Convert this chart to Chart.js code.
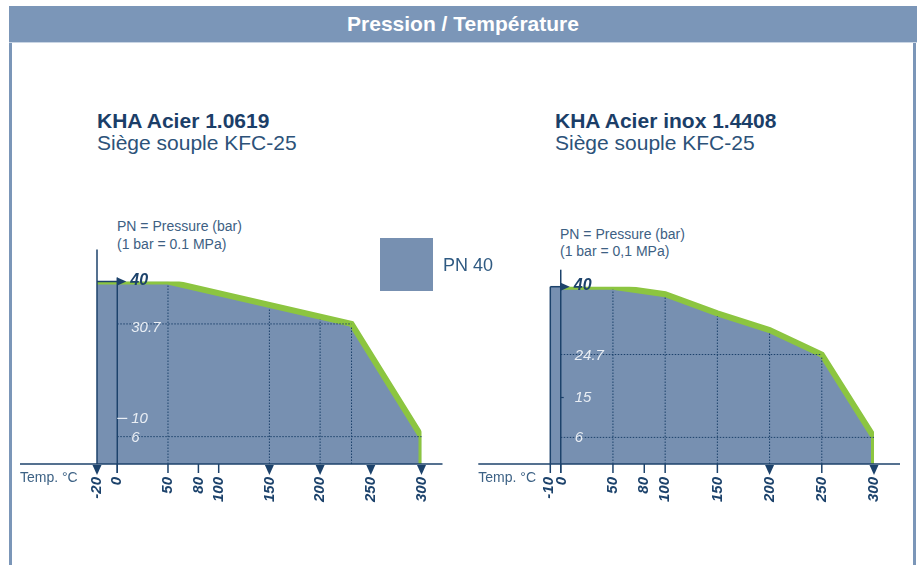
<!DOCTYPE html>
<html>
<head>
<meta charset="utf-8">
<script src="https://cdn.jsdelivr.net/npm/chart.js@4.4.1/dist/chart.umd.min.js"></script>
<style>
body{margin:0;width:924px;height:565px;background:#fff;position:relative;overflow:hidden;font-family:"Liberation Sans",Arial,sans-serif}
.header{position:absolute;left:9px;top:6px;width:908px;height:37px;background:#7b96b8;color:#fff;font-size:21px;font-weight:bold;text-align:center;line-height:36px;border-bottom:1px solid #c9d5e4;box-sizing:border-box}
.frame{position:absolute;left:9px;top:43px;width:901px;height:540px;border-left:3px solid #7b96b8;border-right:3px solid #7b96b8}
.t{position:absolute;white-space:nowrap;line-height:1}
.title{font-size:21px;font-weight:bold;color:#1b3e68}
.sub{font-size:21px;color:#2c5279}
.pn{font-size:14px;color:#3d6083}
canvas{position:absolute}
.legbox{position:absolute;left:380px;top:238px;width:53px;height:53px;background:#7790b1}
</style>
</head>
<body>
<div class="header">Pression / Température</div>
<div class="frame"></div>

<div class="t title" style="left:97px;top:110px">KHA Acier 1.0619</div>
<div class="t sub" style="left:97px;top:132px">Siège souple KFC-25</div>
<div class="t title" style="left:555px;top:110px">KHA Acier inox 1.4408</div>
<div class="t sub" style="left:555px;top:132px">Siège souple KFC-25</div>

<div class="t pn" style="left:117px;top:219px">PN = Pressure (bar)</div>
<div class="t pn" style="left:117px;top:237px">(1 bar = 0.1 MPa)</div>
<div class="t pn" style="left:560px;top:227px">PN = Pressure (bar)</div>
<div class="t pn" style="left:560px;top:244px">(1 bar = 0,1 MPa)</div>

<canvas id="leftChart" width="460" height="330" style="left:0;top:190px;width:460px;height:330px"></canvas>
<canvas id="rightChart" width="450" height="330" style="left:470px;top:190px;width:450px;height:330px"></canvas>

<div class="legbox"></div>
<div class="t" style="left:443px;top:256px;font-size:18px;color:#2f5a82">PN 40</div>

<script>
// KHA Acier 1.0619
const tempLeft = [-20, 50, 231, 300, 300];
const pnLeft = [40, 40, 30.7, 6, 0];
const tickTempLeft = [-20, 0, 50, 80, 100, 150, 200, 250, 300];
const arrowTempLeft = [-20, 150, 200, 250, 300];
const gridTempLeft = [50, 150, 200, 231];
const gridPnLeft = [30.7, 6];
const gridPnEndLeft = [231, 300];
const pnLabelsLeft = ['40', '30.7', '10', '6'];

// KHA Acier inox 1.4408
const tempRight = [-10, 0, 50, 100, 150, 200, 250, 300, 300];
const pnRight = [40, 40, 40, 38.3, 34, 30.2, 24.7, 6, 0];
const lineStartRight = 0;
const tickTempRight = [-10, 0, 50, 80, 100, 150, 200, 250, 300];
const arrowTempRight = [200, 300];
const gridTempRight = [50, 100, 150, 200, 250];
const gridPnRight = [24.7, 6];
const gridPnEndRight = [250, 300];
const pnLabelsRight = ['40', '24.7', '15', '6'];

const NAVY = '#1c426b';
const GREEN = '#8cc540';
const FILL = '#7790b1';
const LIGHT = '#e9eef4';

// valeur de la courbe pour une température donnée
function curveAt(temps, pns, t) {
    for (let i = 0; i < temps.length - 1; i++) {
        if (t >= temps[i] && t <= temps[i + 1] && temps[i + 1] > temps[i]) {
            const k = (t - temps[i]) / (temps[i + 1] - temps[i]);
            return pns[i] + k * (pns[i + 1] - pns[i]);
        }
    }
    return pns[0];
}

function makeDecor(cfg) {
    return {
        id: 'decor',
        afterDatasetsDraw(chart) {
            const ctx = chart.ctx;
            const X = v => chart.scales.x.getPixelForValue(v);
            const Y = v => chart.scales.y.getPixelForValue(v);
            const base = Y(0), x0 = X(0), xMin = X(cfg.temps[0]), y40 = Y(40);
            const line = (a, b, c, d) => { ctx.beginPath(); ctx.moveTo(a, b); ctx.lineTo(c, d); ctx.stroke(); };
            ctx.save();

            // pointillés
            ctx.strokeStyle = NAVY;
            ctx.lineWidth = 1;
            ctx.setLineDash([1.5, 1.5]);
            cfg.gridTemps.forEach(t => line(X(t), base, X(t), Y(curveAt(cfg.temps, cfg.pns, t)) + 3));
            cfg.gridPns.forEach((p, i) => line(x0, Y(p), X(cfg.gridPnEnds[i]), Y(p)));
            ctx.setLineDash([]);

            // axes
            ctx.lineWidth = 1.5;
            line(xMin - cfg.axisLeft, base, X(300) + cfg.axisRight, base);
            line(x0, y40 - cfg.yAxisUp, x0, base + 9);
            line(xMin, y40 - cfg.edgeUp, xMin, base);

            // flèche à 40
            line(xMin, y40, x0, y40);
            ctx.fillStyle = NAVY;
            ctx.beginPath();
            ctx.moveTo(x0, y40 - 4); ctx.lineTo(x0 + 9, y40); ctx.lineTo(x0, y40 + 4);
            ctx.closePath(); ctx.fill();

            // repères sous l'axe
            cfg.ticks.forEach(t => {
                const x = X(t);
                if (cfg.arrows.includes(t)) {
                    ctx.beginPath();
                    ctx.moveTo(x - 4.5, base + 1); ctx.lineTo(x + 4.5, base + 1); ctx.lineTo(x, base + 11);
                    ctx.closePath(); ctx.fill();
                } else {
                    line(x, base, x, base + 9);
                }
            });

            // petits repères sur l'axe y
            cfg.yTicks.forEach(yt => {
                ctx.strokeStyle = yt.color;
                ctx.lineWidth = 1.2;
                line(x0, Y(yt.v), x0 + yt.len, Y(yt.v));
            });

            // étiquettes de température
            ctx.fillStyle = NAVY;
            ctx.font = 'italic bold 15px "Liberation Sans", Arial, sans-serif';
            ctx.textAlign = 'right';
            ctx.textBaseline = 'middle';
            cfg.ticks.forEach(t => {
                ctx.save();
                ctx.translate(X(t) + (cfg.nudge[t] || 0), base + 13);
                ctx.rotate(-Math.PI / 2);
                ctx.fillText(String(t), 0, 0);
                ctx.restore();
            });

            ctx.textAlign = 'left';
            ctx.font = '14px "Liberation Sans", Arial, sans-serif';
            ctx.fillStyle = '#3d6285';
            ctx.fillText('Temp. °C', xMin - cfg.axisLeft, base + 14);

            // étiquettes de pression
            cfg.pnLabels.forEach((lab, i) => {
                const v = parseFloat(lab);
                if (i === 0) {
                    ctx.font = 'italic bold 16px "Liberation Sans", Arial, sans-serif';
                    ctx.fillStyle = NAVY;
                    ctx.fillText(lab, x0 + 13, Y(v) - 1);
                } else {
                    ctx.font = 'italic 15px "Liberation Sans", Arial, sans-serif';
                    ctx.fillStyle = LIGHT;
                    ctx.fillText(lab, x0 + 14, Y(v) + (cfg.labelShift[i] || 0));
                }
            });
            ctx.restore();
        }
    };
}

function makeChart(id, cfg) {
    const pts = cfg.temps.map((t, i) => ({ x: t, y: cfg.pns[i] }));
    const linePts = pts.filter(p => p.x >= cfg.lineStart);
    return new Chart(document.getElementById(id).getContext('2d'), {
        type: 'line',
        data: {
            datasets: [
                { data: linePts, borderColor: GREEN, borderWidth: 6, borderJoinStyle: 'miter', pointRadius: 0, fill: false, tension: 0, order: 0 },
                { data: pts, borderWidth: 0, borderColor: FILL, backgroundColor: FILL, pointRadius: 0, fill: 'origin', tension: 0, order: 1 }
            ]
        },
        options: {
            responsive: false,
            animation: false,
            devicePixelRatio: 1,
            layout: { padding: cfg.padding },
            plugins: { legend: { display: false }, tooltip: { enabled: false } },
            scales: {
                x: { type: 'linear', min: cfg.temps[0], max: 300, display: false },
                y: { min: 0, max: 40, display: false }
            }
        },
        plugins: [makeDecor(cfg)]
    });
}

makeChart('leftChart', {
    temps: tempLeft, pns: pnLeft, lineStart: -20,
    ticks: tickTempLeft, arrows: arrowTempLeft, nudge: {},
    gridTemps: gridTempLeft, gridPns: gridPnLeft, gridPnEnds: gridPnEndLeft,
    pnLabels: pnLabelsLeft, labelShift: [0, 4, 0, 1],
    yTicks: [{ v: 10, len: 10, color: LIGHT }],
    padding: { left: 97, right: 38.5, top: 91.5, bottom: 56 },
    axisLeft: 77, axisRight: 21, yAxisUp: 4, edgeUp: 32
});

makeChart('rightChart', {
    temps: tempRight, pns: pnRight, lineStart: lineStartRight,
    ticks: tickTempRight, arrows: arrowTempRight, nudge: { '-10': -1.5, '0': 1.5 },
    gridTemps: gridTempRight, gridPns: gridPnRight, gridPnEnds: gridPnEndRight,
    pnLabels: pnLabelsRight, labelShift: [0, 1, 0, 0],
    yTicks: [{ v: 15, len: 3, color: NAVY }],
    padding: { left: 80.3, right: 46, top: 96.7, bottom: 56 },
    axisLeft: 72, axisRight: 26, yAxisUp: 17, edgeUp: 0
});
</script>
</body>
</html>
